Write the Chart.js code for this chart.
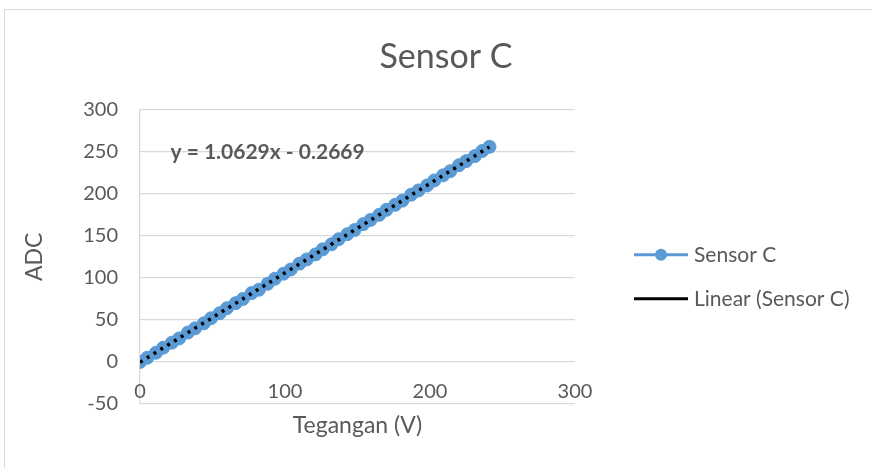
<!DOCTYPE html>
<html>
<head>
<meta charset="utf-8">
<script src="https://cdn.jsdelivr.net/npm/chart.js@4"></script>
<style>
  body { margin: 0; background: #fff; }
  canvas { display: block; }
</style>
</head>
<body>
<canvas id="chart" width="872" height="468"></canvas>
<script>
// Sensor C: ADC reading vs voltage
const tegangan = [0, 5, 11, 16, 22, 27, 33, 38, 44, 49, 55, 60, 66, 71, 77, 82, 88, 93, 99, 104,
  110, 115, 121, 126, 132, 137, 143, 148, 154, 159, 165, 170, 176, 181, 187, 192, 198, 203, 209, 214,
  220, 225, 231, 236, 241];
const adc = [0, 5, 11, 17, 23, 28, 35, 40, 46, 52, 58, 64, 70, 75, 82, 86, 93, 99, 105, 110,
  117, 122, 128, 134, 140, 146, 152, 157, 164, 169, 175, 181, 187, 192, 199, 204, 210, 216, 222, 227,
  234, 239, 245, 251, 256];

// linear trendline end points (y = 1.0629x - 0.2669)
const trendX = [0, 241];
const trendY = [-0.27, 255.9];
const equation = 'y = 1.0629x - 0.2669';

const seriesName = 'Sensor C';
const trendName = 'Linear (Sensor C)';

const blue = '#5B9BD5';
const textGrey = '#595959';
const gridGrey = '#D9D9D9';
const fontFamily = 'Lato, "Noto Sans", sans-serif';

const toPoints = (xs, ys) => xs.map((x, i) => ({ x: x, y: ys[i] }));

// outer border, x tick labels (sit inside the plot, Excel style), equation and legend
const extras = {
  id: 'extras',
  beforeDraw(chart) {
    const ctx = chart.ctx;
    ctx.save();
    ctx.strokeStyle = gridGrey;
    ctx.lineWidth = 1;
    ctx.beginPath();
    ctx.moveTo(4.5, 480);
    ctx.lineTo(4.5, 9.5);
    ctx.lineTo(880, 9.5);
    ctx.stroke();
    ctx.restore();
  },
  afterDraw(chart) {
    const ctx = chart.ctx;
    const area = chart.chartArea;
    const xs = chart.scales.x, ys = chart.scales.y;
    ctx.save();
    ctx.fillStyle = textGrey;
    ctx.textBaseline = 'middle';

    // x tick labels
    ctx.font = '20px ' + fontFamily;
    ctx.textAlign = 'center';
    xs.ticks.forEach((t, i) => {
      ctx.fillText(String(t.value), xs.getPixelForTick(i), area.bottom - 12);
    });

    // trendline equation
    ctx.font = 'bold 21px ' + fontFamily;
    ctx.textAlign = 'left';
    ctx.fillText(equation, xs.getPixelForValue(21), ys.getPixelForValue(250));

    // legend
    const lx = area.right + 59;
    const y1 = area.top + 145;
    const y2 = area.top + 189;
    ctx.lineWidth = 3;
    ctx.strokeStyle = blue;
    ctx.beginPath();
    ctx.moveTo(lx, y1);
    ctx.lineTo(lx + 54, y1);
    ctx.stroke();
    ctx.fillStyle = blue;
    ctx.beginPath();
    ctx.arc(lx + 27, y1, 6, 0, Math.PI * 2);
    ctx.fill();
    ctx.strokeStyle = '#000';
    ctx.beginPath();
    ctx.moveTo(lx, y2);
    ctx.lineTo(lx + 54, y2);
    ctx.stroke();
    ctx.fillStyle = textGrey;
    ctx.font = '21px ' + fontFamily;
    ctx.fillText(seriesName, lx + 60, y1);
    ctx.fillText(trendName, lx + 60, y2);
    ctx.restore();
  }
};

new Chart(document.getElementById('chart'), {
  type: 'scatter',
  data: {
    datasets: [
      {
        label: trendName,
        data: toPoints(trendX, trendY),
        showLine: true,
        borderColor: '#000',
        borderWidth: 3.5,
        borderDash: [3, 5],
        pointRadius: 0
      },
      {
        label: seriesName,
        data: toPoints(tegangan, adc),
        showLine: true,
        borderColor: blue,
        borderWidth: 3,
        backgroundColor: blue,
        pointBackgroundColor: blue,
        pointBorderColor: blue,
        pointBorderWidth: 1,
        pointRadius: 6.5
      }
    ]
  },
  options: {
    responsive: false,
    devicePixelRatio: 1,
    animation: false,
    layout: { padding: { left: 20, right: 0, top: 0, bottom: 0 } },
    plugins: {
      legend: { display: false },
      tooltip: { enabled: false },
      title: {
        display: true,
        text: 'Sensor C',
        color: textGrey,
        font: { family: fontFamily, size: 34, weight: 'normal' },
        padding: { top: 37, bottom: 32 }
      }
    },
    scales: {
      x: {
        type: 'linear',
        min: 0,
        max: 300,
        ticks: { stepSize: 100, display: false },
        grid: { display: false },
        border: { display: false },
        title: {
          display: true,
          text: 'Tegangan (V)',
          color: textGrey,
          font: { family: fontFamily, size: 23 },
          padding: { top: 4, bottom: 29 }
        },
        afterFit(scale) { scale.height = 64; }
      },
      y: {
        min: -50,
        max: 300,
        ticks: { stepSize: 50, color: textGrey, padding: 22, font: { family: fontFamily, size: 20 } },
        grid: { color: gridGrey, lineWidth: 1.3, drawTicks: false },
        border: { display: true, color: gridGrey, width: 1.3 },
        title: {
          display: true,
          text: 'ADC',
          color: textGrey,
          font: { family: fontFamily, size: 23 },
          padding: { top: 1, bottom: 4 }
        },
        afterFit(scale) { scale.width = 120; }
      },
      yr: {
        type: 'linear',
        position: 'right',
        axis: 'y',
        ticks: { display: false },
        grid: { display: false },
        border: { display: false },
        afterFit(scale) { scale.width = 297; }
      }
    }
  },
  plugins: [extras]
});
</script>
</body>
</html>
